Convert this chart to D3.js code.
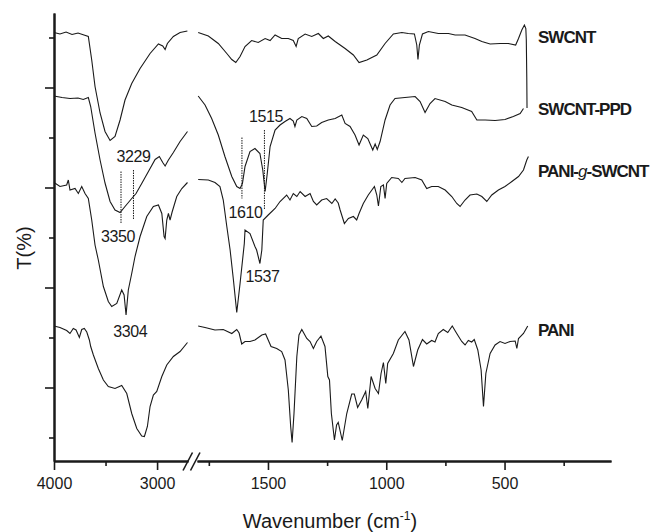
<!DOCTYPE html>
<html>
<head>
<meta charset="utf-8">
<script src="https://cdn.jsdelivr.net/npm/d3@7"></script>
<style>
  body { margin: 0; background: #fff; }
  svg text { font-family: "Liberation Sans", Arial, sans-serif; fill: #1a1a1a; }
</style>
</head>
<body>
<div id="chart"></div>
<script>
// FTIR spectra, offset transmittance (arbitrary units), [wavenumber, T]
var swcntLeft = [[4000,81.0],[3942,80.7],[3883,81.1],[3825,80.6],[3767,80.9],[3709,80.5],[3667,80.2],[3634,75.5],[3602,70.2],[3553,64.9],[3505,61.2],[3456,59.4],[3408,60.2],[3359,63.5],[3311,67.5],[3246,70.8],[3165,73.8],[3068,76.8],[2987,78.7],[2945,78.3],[2922,77.6],[2900,78.8],[2842,80.2],[2777,81.0],[2706,81.3]];
var swcntRight = [[1795,81.0],[1752,80.3],[1710,78.8],[1674,76.8],[1653,75.6],[1636,75.0],[1618,76.2],[1597,78.2],[1569,79.4],[1541,79.0],[1512,79.8],[1491,79.4],[1470,80.5],[1442,79.8],[1414,79.8],[1393,79.4],[1381,78.2],[1372,79.8],[1343,80.7],[1315,80.2],[1287,80.8],[1266,79.8],[1245,80.3],[1216,79.2],[1174,77.8],[1139,76.5],[1115,75.0],[1082,75.5],[1040,76.5],[1005,78.8],[970,80.7],[934,81.0],[907,80.8],[881,80.7],[871,78.5],[866,75.6],[860,78.5],[847,80.7],[822,81.2],[780,80.8],[737,80.8],[709,80.5],[667,80.5],[625,79.8],[596,79.2],[561,78.7],[519,78.8],[484,78.8],[453,78.5],[441,79.8],[427,81.5],[416,82.5],[410,81.8],[408,79.5],[406,72.0],[405,65.9]];

var ppdLeft = [[4000,68.3],[3922,68.0],[3845,67.8],[3767,67.9],[3716,67.6],[3667,68.0],[3644,66.2],[3602,60.9],[3553,55.5],[3505,50.9],[3456,47.2],[3408,45.5],[3359,45.0],[3311,46.2],[3246,47.8],[3204,48.8],[3149,50.8],[3084,53.2],[3019,55.6],[2978,56.2],[2945,55.0],[2922,54.3],[2890,55.5],[2842,57.0],[2777,59.2],[2705,61.2]];
var ppdRight = [[1795,68.3],[1766,66.5],[1738,63.8],[1710,60.5],[1682,56.2],[1653,52.2],[1632,50.2],[1618,49.8],[1608,50.8],[1597,54.2],[1576,57.2],[1555,57.8],[1534,56.8],[1522,53.5],[1512,49.2],[1503,52.8],[1491,58.2],[1470,61.5],[1449,62.5],[1428,63.2],[1407,63.8],[1393,63.3],[1386,62.2],[1378,63.5],[1357,64.2],[1336,63.8],[1315,62.2],[1294,62.3],[1273,63.0],[1245,63.5],[1216,63.8],[1188,64.5],[1174,62.8],[1153,62.2],[1132,60.5],[1115,58.5],[1097,60.5],[1078,59.8],[1057,57.5],[1047,58.7],[1038,57.6],[1026,59.2],[1005,63.5],[984,66.5],[963,67.8],[921,68.0],[878,68.2],[857,67.2],[836,65.0],[815,66.8],[794,67.8],[751,67.2],[723,66.5],[681,66.0],[639,65.2],[617,63.5],[582,63.5],[540,63.4],[498,63.6],[463,64.2],[434,64.8],[420,65.8]];

var graftLeft = [[4000,51.0],[3942,50.2],[3877,50.5],[3861,51.5],[3845,49.5],[3796,49.8],[3764,48.8],[3731,50.2],[3699,48.8],[3667,47.8],[3634,43.5],[3602,38.5],[3570,35.5],[3521,30.2],[3473,27.2],[3440,26.2],[3391,26.8],[3343,29.5],[3320,28.5],[3301,24.5],[3279,29.5],[3246,32.8],[3214,36.2],[3165,40.2],[3100,44.2],[3036,46.2],[2987,46.5],[2954,44.8],[2932,40.2],[2922,39.8],[2906,43.5],[2890,44.8],[2874,43.5],[2854,45.1],[2809,48.2],[2760,49.8],[2705,51.0]];
var graftRight = [[1795,51.6],[1752,51.5],[1724,51.0],[1703,50.2],[1689,47.5],[1674,42.2],[1660,37.5],[1646,31.5],[1632,25.0],[1618,30.8],[1600,38.8],[1597,41.5],[1576,40.8],[1555,38.2],[1548,37.5],[1534,34.8],[1526,37.5],[1520,43.5],[1499,44.5],[1470,45.8],[1449,47.2],[1421,48.5],[1407,47.5],[1393,48.8],[1378,48.2],[1364,49.2],[1343,48.2],[1322,48.8],[1308,47.2],[1294,46.5],[1273,47.5],[1252,47.8],[1230,46.8],[1216,47.7],[1203,46.9],[1195,45.5],[1177,42.8],[1160,43.8],[1139,44.2],[1125,43.5],[1115,44.8],[1097,46.8],[1076,48.5],[1050,50.2],[1040,48.5],[1033,46.3],[1023,50.2],[1012,50.5],[1005,47.8],[998,50.8],[977,52.0],[949,51.8],[934,51.0],[921,51.8],[878,52.0],[850,51.5],[829,49.8],[808,50.2],[780,50.2],[751,49.5],[723,48.2],[702,46.8],[688,46.2],[667,47.5],[646,48.5],[617,48.7],[596,48.2],[575,47.2],[554,48.5],[526,49.5],[498,50.2],[469,51.2],[441,52.2],[420,53.5],[406,55.5],[399,56.2]];

var paniLeft = [[4000,22.3],[3942,22.0],[3877,21.4],[3845,20.8],[3813,21.8],[3786,21.5],[3754,20.0],[3731,21.6],[3706,21.8],[3682,21.1],[3657,19.5],[3644,18.2],[3618,16.5],[3570,13.8],[3521,11.5],[3473,10.2],[3408,9.8],[3343,10.4],[3294,8.8],[3246,4.8],[3197,1.8],[3149,0.3],[3123,0.2],[3094,2.2],[3068,6.2],[3036,8.5],[3003,9.2],[2954,12.2],[2906,14.5],[2842,16.2],[2777,17.2],[2705,19.0]];
var paniRight = [[1795,22.3],[1766,22.0],[1724,21.5],[1689,21.6],[1653,20.8],[1632,21.6],[1622,20.9],[1611,18.7],[1597,19.2],[1576,19.2],[1555,19.5],[1526,20.5],[1510,20.7],[1499,19.5],[1487,18.2],[1463,17.8],[1442,17.2],[1428,15.5],[1414,9.5],[1404,2.2],[1398,-1.0],[1390,4.8],[1378,16.2],[1369,20.5],[1357,21.6],[1336,19.8],[1322,19.2],[1308,17.8],[1294,19.2],[1276,20.3],[1259,18.2],[1247,12.2],[1240,11.5],[1232,4.8],[1219,-0.5],[1210,2.5],[1203,3.0],[1186,-0.6],[1167,4.8],[1146,8.7],[1135,8.7],[1121,6.0],[1104,7.5],[1087,9.2],[1078,5.8],[1064,12.2],[1047,9.8],[1033,8.8],[1022,12.8],[1012,15.0],[1002,10.8],[994,14.8],[970,16.8],[949,19.5],[921,21.2],[904,19.5],[885,14.2],[867,17.5],[847,19.6],[829,18.7],[808,19.4],[794,19.1],[780,20.8],[759,21.6],[740,21.0],[721,22.3],[702,20.8],[681,19.2],[667,18.5],[653,19.4],[639,19.1],[628,19.6],[613,17.5],[599,13.5],[589,6.2],[579,12.8],[561,16.8],[540,18.5],[519,19.2],[498,18.8],[477,19.2],[455,19.3],[448,17.8],[441,19.8],[420,20.8],[402,22.3]];

var seriesNames = ["SWCNT", "SWCNT-PPD", "PANI-g-SWCNT", "PANI"];
var labelT = [79.0, 64.5, 52.1, 20.3];   // T level where each name sits

var xTicksLeftMajor = [4000, 3000];
var xTicksLeftMinor = [3500];
var xTicksRightMajor = [1500, 1000, 500];
var xTicksRightMinor = [1750, 1250, 750, 250];
var yTicksMajor = [10, 30, 50, 70];
var yTicksMinor = [0, 20, 40, 60, 80];

// peak marks: wavenumber, T top, T bottom of dashed line
var peakLines = [[3350, 53.2, 42.8, "L"], [3229, 53.5, 43.6, "L"], [1610, 60.0, 47.8, "R"], [1515, 61.5, 45.5, "R"]];
// peak labels: text, wavenumber, T of baseline, side
var peakLabels = [["3229", 3229, 55.2, "L"], ["3350", 3380, 39.2, "L"], ["3304", 3260, 20.2, "L"], ["1515", 1508, 63.2, "R"], ["1610", 1595, 43.9, "R"], ["1537", 1523, 31.2, "R"]];

var width = 656, height = 532;
var svg = d3.select("#chart").append("svg")
    .attr("width", width)
    .attr("height", height);

var xL = d3.scaleLinear().domain([4000, 2700]).range([54, 188]);
var xR = d3.scaleLinear().domain([1800, 50]).range([197, 611]);
var y = d3.scaleLinear().domain([-4.7, 84.9]).range([461, 13]);

var lineL = d3.line().x(function(d) { return xL(d[0]); }).y(function(d) { return y(d[1]); });
var lineR = d3.line().x(function(d) { return xR(d[0]); }).y(function(d) { return y(d[1]); });

var lefts = [swcntLeft, ppdLeft, graftLeft, paniLeft];
var rights = [swcntRight, ppdRight, graftRight, paniRight];

lefts.forEach(function(s) {
    svg.append("path").attr("d", lineL(s))
        .attr("fill", "none").attr("stroke", "#1a1a1a").attr("stroke-width", 1.1);
});
rights.forEach(function(s) {
    svg.append("path").attr("d", lineR(s))
        .attr("fill", "none").attr("stroke", "#1a1a1a").attr("stroke-width", 1.1);
});

// axes
function styleAxis(g) {
    g.select(".domain").attr("stroke", "#1a1a1a").attr("stroke-width", 2);
    g.selectAll(".tick line").attr("stroke", "#1a1a1a").attr("stroke-width", 1.6);
    g.selectAll(".tick text").style("font-size", "16px").attr("fill", "#1a1a1a");
}
var fmt = d3.format("d");
var axisY = 461;
svg.append("g").attr("transform", "translate(0," + axisY + ")")
    .call(d3.axisBottom(xL).tickValues(xTicksLeftMajor).tickSize(9).tickSizeOuter(0).tickPadding(8).tickFormat(fmt))
    .call(styleAxis);
svg.append("g").attr("transform", "translate(0," + axisY + ")")
    .call(d3.axisBottom(xL).tickValues(xTicksLeftMinor).tickSize(5).tickSizeOuter(0).tickFormat(""))
    .call(styleAxis);
svg.append("g").attr("transform", "translate(0," + axisY + ")")
    .call(d3.axisBottom(xR).tickValues(xTicksRightMajor).tickSize(9).tickSizeOuter(0).tickPadding(8).tickFormat(fmt))
    .call(styleAxis);
svg.append("g").attr("transform", "translate(0," + axisY + ")")
    .call(d3.axisBottom(xR).tickValues(xTicksRightMinor).tickSize(5).tickSizeOuter(0).tickFormat(""))
    .call(styleAxis);
svg.append("g").attr("transform", "translate(54,0)")
    .call(d3.axisLeft(y).tickValues(yTicksMajor).tickSize(9).tickSizeOuter(0).tickFormat(""))
    .call(styleAxis);
svg.append("g").attr("transform", "translate(54,0)")
    .call(d3.axisLeft(y).tickValues(yTicksMinor).tickSize(5).tickSizeOuter(0).tickFormat(""))
    .call(styleAxis);

// axis break marks
var bx = (xL.range()[1] + xR.range()[0]) / 2;
[-9.5, -2].forEach(function(off) {
    svg.append("line")
        .attr("x1", bx + off).attr("y1", axisY + 9.5)
        .attr("x2", bx + off + 9.5).attr("y2", axisY - 8.5)
        .attr("stroke", "#1a1a1a").attr("stroke-width", 1.6);
});

// axis titles
svg.append("text")
    .attr("x", 330).attr("y", 528)
    .attr("text-anchor", "middle")
    .style("font-size", "20px")
    .html('Wavenumber (cm<tspan dy="-8" font-size="12px">-1</tspan><tspan dy="8">)</tspan>');
svg.append("text")
    .attr("transform", "translate(31,248)rotate(-90)")
    .attr("text-anchor", "middle")
    .style("font-size", "20px")
    .text("T(%)");

// peak markers
peakLines.forEach(function(p) {
    var sx = p[3] == "L" ? xL : xR;
    svg.append("line")
        .attr("x1", sx(p[0])).attr("x2", sx(p[0]))
        .attr("y1", y(p[1])).attr("y2", y(p[2]))
        .attr("stroke", "#1a1a1a").attr("stroke-width", 1)
        .attr("stroke-dasharray", "1.5,1");
});
peakLabels.forEach(function(p) {
    var sx = p[3] == "L" ? xL : xR;
    svg.append("text")
        .attr("x", sx(p[1])).attr("y", y(p[2]))
        .attr("text-anchor", "middle")
        .style("font-size", "16px")
        .style("letter-spacing", "-0.4px")
        .text(p[0]);
});

// series names
seriesNames.forEach(function(name, i) {
    var t = svg.append("text")
        .attr("x", 538).attr("y", y(labelT[i]))
        .style("font-size", "17px")
        .style("font-weight", "bold")
        .style("letter-spacing", "-1px");
    if (name == "PANI-g-SWCNT") {
        t.append("tspan").text("PANI-");
        t.append("tspan").style("font-style", "italic").style("font-weight", "normal").text("g");
        t.append("tspan").text("-SWCNT");
    } else {
        t.text(name);
    }
});
</script>
</body>
</html>
